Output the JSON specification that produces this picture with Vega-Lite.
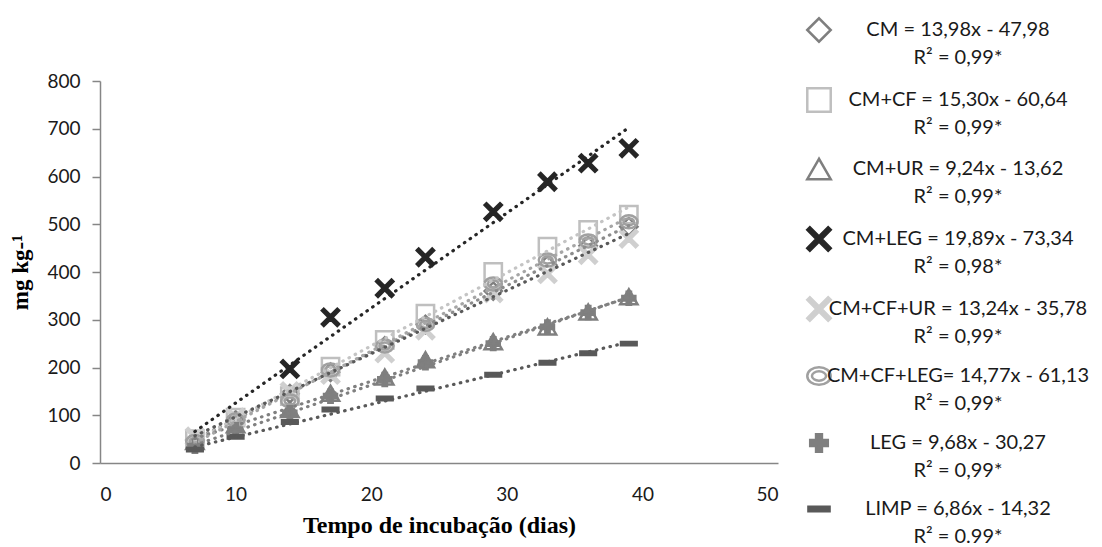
{
  "$schema": "https://vega.github.io/schema/vega-lite/v6.json",
  "width": 678,
  "height": 382,
  "autosize": {"type": "none"},
  "padding": {"left": 100, "top": 81, "right": 324, "bottom": 84},
  "background": "white",
  "config": {
    "view": {"stroke": null},
    "font": "Lato",
    "style": {"guide-label": {"lineHeight": 28}},
    "axis": {"grid": false, "domainColor": "#868686", "domainWidth": 1.5, "tickColor": "#868686", "tickWidth": 1.5, "labelFont": "Lato", "labelFontSize": 19, "labelColor": "#1a1a1a", "titleFont": "Liberation Serif", "titleFontWeight": "bold", "titleColor": "#000000"}
  },
  "datasets": {
    "pts": [
      {"series": "CM", "dias": 7, "mg": 48}, {"series": "CM", "dias": 10, "mg": 90}, {"series": "CM", "dias": 14, "mg": 145}, {"series": "CM", "dias": 17, "mg": 190}, {"series": "CM", "dias": 21, "mg": 245}, {"series": "CM", "dias": 24, "mg": 290}, {"series": "CM", "dias": 29, "mg": 360}, {"series": "CM", "dias": 33, "mg": 415}, {"series": "CM", "dias": 36, "mg": 455}, {"series": "CM", "dias": 39, "mg": 495},
      {"series": "CM+CF", "dias": 7, "mg": 50}, {"series": "CM+CF", "dias": 10, "mg": 95}, {"series": "CM+CF", "dias": 14, "mg": 140}, {"series": "CM+CF", "dias": 17, "mg": 202}, {"series": "CM+CF", "dias": 21, "mg": 258}, {"series": "CM+CF", "dias": 24, "mg": 313}, {"series": "CM+CF", "dias": 29, "mg": 400}, {"series": "CM+CF", "dias": 33, "mg": 453}, {"series": "CM+CF", "dias": 36, "mg": 488}, {"series": "CM+CF", "dias": 39, "mg": 520},
      {"series": "CM+UR", "dias": 7, "mg": 45}, {"series": "CM+UR", "dias": 10, "mg": 80}, {"series": "CM+UR", "dias": 14, "mg": 112}, {"series": "CM+UR", "dias": 17, "mg": 146}, {"series": "CM+UR", "dias": 21, "mg": 180}, {"series": "CM+UR", "dias": 24, "mg": 216}, {"series": "CM+UR", "dias": 29, "mg": 254}, {"series": "CM+UR", "dias": 33, "mg": 285}, {"series": "CM+UR", "dias": 36, "mg": 316}, {"series": "CM+UR", "dias": 39, "mg": 348},
      {"series": "CM+LEG", "dias": 14, "mg": 197}, {"series": "CM+LEG", "dias": 17, "mg": 305}, {"series": "CM+LEG", "dias": 21, "mg": 366}, {"series": "CM+LEG", "dias": 24, "mg": 431}, {"series": "CM+LEG", "dias": 29, "mg": 526}, {"series": "CM+LEG", "dias": 33, "mg": 589}, {"series": "CM+LEG", "dias": 36, "mg": 628}, {"series": "CM+LEG", "dias": 39, "mg": 659},
      {"series": "CM+CF+UR", "dias": 7, "mg": 55}, {"series": "CM+CF+UR", "dias": 10, "mg": 95}, {"series": "CM+CF+UR", "dias": 14, "mg": 150}, {"series": "CM+CF+UR", "dias": 17, "mg": 185}, {"series": "CM+CF+UR", "dias": 21, "mg": 230}, {"series": "CM+CF+UR", "dias": 24, "mg": 278}, {"series": "CM+CF+UR", "dias": 29, "mg": 356}, {"series": "CM+CF+UR", "dias": 33, "mg": 396}, {"series": "CM+CF+UR", "dias": 36, "mg": 436}, {"series": "CM+CF+UR", "dias": 39, "mg": 470},
      {"series": "CM+CF+LEG", "dias": 7, "mg": 45}, {"series": "CM+CF+LEG", "dias": 10, "mg": 90}, {"series": "CM+CF+LEG", "dias": 14, "mg": 130}, {"series": "CM+CF+LEG", "dias": 17, "mg": 195}, {"series": "CM+CF+LEG", "dias": 21, "mg": 245}, {"series": "CM+CF+LEG", "dias": 24, "mg": 290}, {"series": "CM+CF+LEG", "dias": 29, "mg": 375}, {"series": "CM+CF+LEG", "dias": 33, "mg": 425}, {"series": "CM+CF+LEG", "dias": 36, "mg": 465}, {"series": "CM+CF+LEG", "dias": 39, "mg": 505},
      {"series": "LEG", "dias": 7, "mg": 35}, {"series": "LEG", "dias": 10, "mg": 70}, {"series": "LEG", "dias": 14, "mg": 105}, {"series": "LEG", "dias": 17, "mg": 140}, {"series": "LEG", "dias": 21, "mg": 175}, {"series": "LEG", "dias": 24, "mg": 210}, {"series": "LEG", "dias": 29, "mg": 250}, {"series": "LEG", "dias": 33, "mg": 285}, {"series": "LEG", "dias": 36, "mg": 315}, {"series": "LEG", "dias": 39, "mg": 345},
      {"series": "LIMP", "dias": 7, "mg": 28}, {"series": "LIMP", "dias": 10, "mg": 55}, {"series": "LIMP", "dias": 14, "mg": 86}, {"series": "LIMP", "dias": 17, "mg": 112}, {"series": "LIMP", "dias": 21, "mg": 135}, {"series": "LIMP", "dias": 24, "mg": 156}, {"series": "LIMP", "dias": 29, "mg": 185}, {"series": "LIMP", "dias": 33, "mg": 210}, {"series": "LIMP", "dias": 36, "mg": 230}, {"series": "LIMP", "dias": 39, "mg": 250}
    ],
    "trend": [
      {"series": "CM", "dias": 7, "mg": 49.9}, {"series": "CM", "dias": 39, "mg": 497.2},
      {"series": "CM+CF", "dias": 7, "mg": 46.5}, {"series": "CM+CF", "dias": 39, "mg": 536.1},
      {"series": "CM+UR", "dias": 7, "mg": 51.1}, {"series": "CM+UR", "dias": 39, "mg": 346.7},
      {"series": "CM+LEG", "dias": 7, "mg": 65.9}, {"series": "CM+LEG", "dias": 39, "mg": 702.4},
      {"series": "CM+CF+UR", "dias": 7, "mg": 56.9}, {"series": "CM+CF+UR", "dias": 39, "mg": 480.6},
      {"series": "CM+CF+LEG", "dias": 7, "mg": 42.3}, {"series": "CM+CF+LEG", "dias": 39, "mg": 514.9},
      {"series": "LEG", "dias": 7, "mg": 37.5}, {"series": "LEG", "dias": 39, "mg": 347.3},
      {"series": "LIMP", "dias": 7, "mg": 33.7}, {"series": "LIMP", "dias": 39, "mg": 253.2}
    ]
  },
  "layer": [
    {
      "data": {"name": "pts"},
      "mark": {"type": "point", "filled": true, "opacity": 1, "size": 300, "strokeWidth": 2.5},
      "encoding": {
        "x": {"field": "dias", "type": "quantitative", "scale": {"domain": [0, 50]}, "axis": {"values": [0, 10, 20, 30, 40, 50], "ticks": false, "labelPadding": 22, "title": "Tempo de incubação (dias)", "titleFontSize": 24, "titlePadding": 9}},
        "y": {"field": "mg", "type": "quantitative", "scale": {"domain": [0, 800]}, "axis": {"values": [0, 100, 200, 300, 400, 500, 600, 700, 800], "tickSize": 8, "labelPadding": 12, "title": "mg kg-¹", "titleFontSize": 23, "titlePadding": 14}},
        "shape": {"field": "series", "type": "nominal",
          "scale": {"domain": ["CM", "CM+CF", "CM+UR", "CM+LEG", "CM+CF+UR", "CM+CF+LEG", "LEG", "LIMP"],
            "range": ["diamond", "square", "triangle-up",
              "M-1,-0.78L-0.78,-1L0,-0.22L0.78,-1L1,-0.78L0.22,0L1,0.78L0.78,1L0,0.22L-0.78,1L-1,0.78L-0.22,0Z",
              "M-1,-0.78L-0.78,-1L0,-0.22L0.78,-1L1,-0.78L0.22,0L1,0.78L0.78,1L0,0.22L-0.78,1L-1,0.78L-0.22,0Z",
              "M-1,0A1,0.75 0 1,0 1,0A1,0.75 0 1,0 -1,0M-0.6,0A0.6,0.4 0 1,0 0.6,0A0.6,0.4 0 1,0 -0.6,0",
              "M-0.25,-0.75H0.25V-0.25H0.75V0.25H0.25V0.75H-0.25V0.25H-0.75V-0.25H-0.25Z",
              "M-0.9,-0.2H0.9V0.2H-0.9Z"]},
          "legend": {"orient": "none", "legendX": 706, "legendY": -64, "title": null, "padding": 0, "symbolSize": 550, "symbolStrokeWidth": 2.5, "labelFont": "Lato", "labelFontSize": 20, "labelColor": "#1a1a1a", "labelAlign": "center", "labelOffset": 126, "labelLimit": 500, "rowPadding": 15,
            "labelExpr": "datum.label == 'CM' ? ['CM = 13,98x - 47,98', 'R² = 0,99*'] : datum.label == 'CM+CF' ? ['CM+CF = 15,30x - 60,64', 'R² = 0,99*'] : datum.label == 'CM+UR' ? ['CM+UR = 9,24x - 13,62', 'R² = 0,99*'] : datum.label == 'CM+LEG' ? ['CM+LEG = 19,89x - 73,34', 'R² = 0,98*'] : datum.label == 'CM+CF+UR' ? ['CM+CF+UR = 13,24x - 35,78', 'R² = 0,99*'] : datum.label == 'CM+CF+LEG' ? ['CM+CF+LEG= 14,77x - 61,13', 'R² = 0,99*'] : datum.label == 'LEG' ? ['LEG = 9,68x - 30,27', 'R² = 0,99*'] : ['LIMP = 6,86x - 14,32', 'R² = 0.99*']"}
        },
        "fill": {"field": "series", "type": "nominal",
          "scale": {"domain": ["CM", "CM+CF", "CM+UR", "CM+LEG", "CM+CF+UR", "CM+CF+LEG", "LEG", "LIMP"],
            "range": ["transparent", "transparent", "transparent", "#262626", "#cfcfcf", "transparent", "#7f7f7f", "#595959"]},
          "legend": {"orient": "none", "legendX": 706, "legendY": -64, "title": null}
        },
        "stroke": {"field": "series", "type": "nominal",
          "scale": {"domain": ["CM", "CM+CF", "CM+UR", "CM+LEG", "CM+CF+UR", "CM+CF+LEG", "LEG", "LIMP"],
            "range": ["#7f7f7f", "#bfbfbf", "#7f7f7f", "#262626", "#cfcfcf", "#a0a0a0", "#7f7f7f", "#595959"]},
          "legend": {"orient": "none", "legendX": 706, "legendY": -64, "title": null}
        }
      }
    },
    {
      "data": {"name": "trend"},
      "mark": {"type": "line", "strokeDash": [0.5, 6.5], "strokeCap": "round", "strokeWidth": 3.2},
      "encoding": {
        "x": {"field": "dias", "type": "quantitative"},
        "y": {"field": "mg", "type": "quantitative"},
        "color": {"field": "series", "type": "nominal",
          "scale": {"domain": ["CM", "CM+CF", "CM+UR", "CM+LEG", "CM+CF+UR", "CM+CF+LEG", "LEG", "LIMP"],
            "range": ["#8c8c8c", "#c4c4c4", "#808080", "#262626", "#595959", "#a6a6a6", "#808080", "#595959"]},
          "legend": null}
      }
    }
  ]
}
